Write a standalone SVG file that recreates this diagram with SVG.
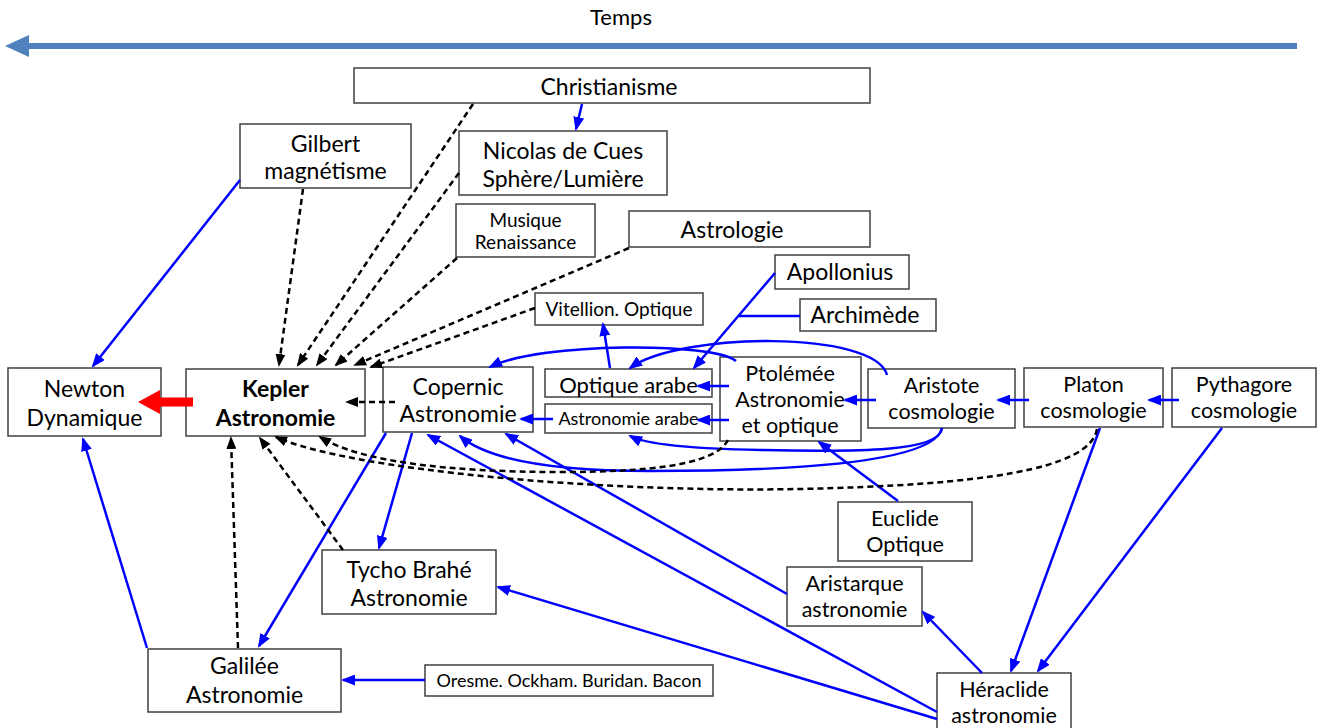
<svg xmlns="http://www.w3.org/2000/svg" width="1318" height="728" viewBox="0 0 1318 728">
<style>
.box{fill:#fff;stroke:#404040;stroke-width:1.5}
text{font-family:Lato,"Open Sans","Liberation Sans",sans-serif;fill:#000;text-anchor:middle}
.t{font-size:23px}
.c{font-size:21.5px}
.b{font-size:23px;font-weight:bold}
.s{font-size:19px}
.m{font-size:22px}
.bl{fill:none;stroke:#0000FF;stroke-width:2.5;marker-end:url(#ab)}
.bn{fill:none;stroke:#0000FF;stroke-width:2.5}
.dk{fill:none;stroke:#000;stroke-width:2.5;stroke-dasharray:6 4;marker-end:url(#ak)}
</style>
<defs>
<marker id="ab" markerUnits="userSpaceOnUse" markerWidth="14" markerHeight="11" refX="12" refY="5.5" orient="auto"><path d="M0,0 L14,5.5 L0,11 z" fill="#0000FF"/></marker>
<marker id="ak" markerUnits="userSpaceOnUse" markerWidth="13" markerHeight="10" refX="11" refY="5" orient="auto"><path d="M0,0 L13,5 L0,10 z" fill="#000"/></marker>
</defs>

<g id="timeline">
<text x="621" y="25" style="font-size:22px">Temps</text>
<line x1="1297" y1="46" x2="25" y2="46" stroke="#4F81BD" stroke-width="6"/>
<path d="M5,46 L29,35 L29,57 z" fill="#4F81BD"/>
</g>

<g id="christianisme"><rect class="box" x="354" y="68" width="516" height="35"/><text class="t" x="609" y="95">Christianisme</text></g>
<g id="gilbert"><rect class="box" x="240" y="124" width="171" height="64"/><text class="t" x="325.5" y="152">Gilbert</text><text class="t" x="325.5" y="179">magnétisme</text></g>
<g id="nicolas"><rect class="box" x="459" y="131" width="208" height="64"/><text class="t" x="563" y="159">Nicolas de Cues</text><text class="t" x="563" y="187">Sphère/Lumière</text></g>
<g id="musique"><rect class="box" x="456" y="204" width="139" height="53"/><text class="s" x="525.5" y="227">Musique</text><text class="s" x="525.5" y="249">Renaissance</text></g>
<g id="astrologie"><rect class="box" x="629" y="211" width="241" height="36"/><text class="t" x="732" y="238">Astrologie</text></g>
<g id="apollonius"><rect class="box" x="775" y="255" width="134" height="34"/><text class="t" x="840" y="280">Apollonius</text></g>
<g id="archimede"><rect class="box" x="800" y="299" width="136" height="32"/><text class="t" x="865" y="323">Archimède</text></g>
<g id="vitellion"><rect class="box" x="535" y="293" width="168" height="32"/><text class="s" x="619" y="316">Vitellion. Optique</text></g>
<g id="optique-arabe"><rect class="box" x="545" y="369" width="167" height="28"/><text class="m" x="628.5" y="393">Optique arabe</text></g>
<g id="astronomie-arabe"><rect class="box" x="545" y="404" width="167" height="29"/><text class="s" x="628.5" y="425" style="font-size:18px">Astronomie arabe</text></g>
<g id="ptolemee"><rect class="box" x="720" y="357" width="141" height="84"/><text class="c" x="790" y="381">Ptolémée</text><text class="c" x="790" y="407">Astronomie</text><text class="c" x="790" y="433">et optique</text></g>
<g id="aristote"><rect class="box" x="868" y="369" width="147" height="59"/><text class="c" x="941.5" y="393">Aristote</text><text class="c" x="941.5" y="419">cosmologie</text></g>
<g id="platon"><rect class="box" x="1024" y="368" width="139" height="59"/><text class="c" x="1093.5" y="392">Platon</text><text class="c" x="1093.5" y="418">cosmologie</text></g>
<g id="pythagore"><rect class="box" x="1172" y="368" width="144" height="59"/><text class="c" x="1244" y="392">Pythagore</text><text class="c" x="1244" y="418">cosmologie</text></g>
<g id="newton"><rect class="box" x="8" y="368" width="153" height="68"/><text class="t" x="84.5" y="397">Newton</text><text class="t" x="84.5" y="426">Dynamique</text></g>
<g id="kepler"><rect class="box" x="186" y="369" width="179" height="67"/><text class="b" x="275.5" y="397">Kepler</text><text class="b" x="275.5" y="426">Astronomie</text></g>
<g id="copernic"><rect class="box" x="383" y="367" width="150" height="65"/><text class="t" x="458" y="395">Copernic</text><text class="t" x="458" y="422">Astronomie</text></g>
<g id="euclide"><rect class="box" x="838" y="502" width="134" height="59"/><text class="c" x="905" y="526">Euclide</text><text class="c" x="905" y="552">Optique</text></g>
<g id="tycho"><rect class="box" x="322" y="550" width="174" height="64"/><text class="t" x="409" y="578">Tycho Brahé</text><text class="t" x="409" y="606">Astronomie</text></g>
<g id="aristarque"><rect class="box" x="787" y="567" width="135" height="59"/><text class="c" x="854.5" y="591">Aristarque</text><text class="c" x="854.5" y="617">astronomie</text></g>
<g id="galilee"><rect class="box" x="148" y="649" width="193" height="63"/><text class="t" x="244.5" y="674">Galilée</text><text class="t" x="244.5" y="703">Astronomie</text></g>
<g id="oresme"><rect class="box" x="425" y="665" width="288" height="31"/><text class="s" x="569" y="687" style="font-size:18px">Oresme. Ockham. Buridan. Bacon</text></g>
<g id="heraclide"><rect class="box" x="937" y="673" width="134" height="70"/><text class="c" x="1004" y="697">Héraclide</text><text class="c" x="1004" y="723">astronomie</text></g>

<g id="connectors">
<path class="bl" d="M582,104 L576,129"/>
<path class="bl" d="M240,180 L93,366"/>
<path class="bl" d="M147,648 L83,439"/>
<path class="bl" d="M412,433 L379,548"/>
<path class="bl" d="M386,433 L259,646"/>
<path class="bl" d="M425,680 L343,680"/>
<path class="bl" d="M937,719 L498,587"/>
<path class="bl" d="M937,712 L428,435"/>
<path class="bl" d="M787,594 L506,434"/>
<path class="bl" d="M982,673 L923,612"/>
<path class="bl" d="M1100,428 L1011,671"/>
<path class="bl" d="M1222,428 L1038,671"/>
<path class="bl" d="M1179,400 L1149,400"/>
<path class="bl" d="M1029,400 L998,400"/>
<path class="bl" d="M876,400 L845,400"/>
<path class="bl" d="M729,386 L698,386"/>
<path class="bl" d="M729,420 L698,420"/>
<path class="bl" d="M553,419 L521,419"/>
<path class="bl" d="M610,368 L603,324"/>
<path class="bl" d="M775,273 L694,368"/>
<path class="bn" d="M800,316 L739,316"/>
<path class="bl" d="M898,501 L819,442"/>
<path class="bl" d="M736,361 C715,342 540,342 490,367"/>
<path class="bl" d="M887,375 C875,330 680,332 630,368"/>
<path class="bl" d="M942,428 C940,452 860,452 760,450 C700,449 650,446 630,436"/>
<path class="bl" d="M942,428 C935,462 800,471 650,471 C560,471 490,462 460,436"/>

<path class="dk" d="M303,189 L279,365"/>
<path class="dk" d="M473,104 L298,365"/>
<path class="dk" d="M459,173 L317,365"/>
<path class="dk" d="M457,258 L336,365"/>
<path class="dk" d="M629,248 L355,365"/>
<path class="dk" d="M535,308 L371,367"/>
<path class="dk" d="M395,402 L347,402"/>
<path class="dk" d="M343,550 L260,438"/>
<path class="dk" d="M238,648 L231,438"/>
<path class="dk" d="M728,440 C715,465 650,472 560,472 C450,472 360,462 320,437"/>
<path class="dk" d="M1097,429 C1090,470 980,485 800,489 C600,493 350,470 276,437"/>

<path d="M193,397.5 L160,397.5 L160,390 L138,402 L160,414 L160,406.5 L193,406.5 z" fill="#FF0000"/>
</g>
</svg>
